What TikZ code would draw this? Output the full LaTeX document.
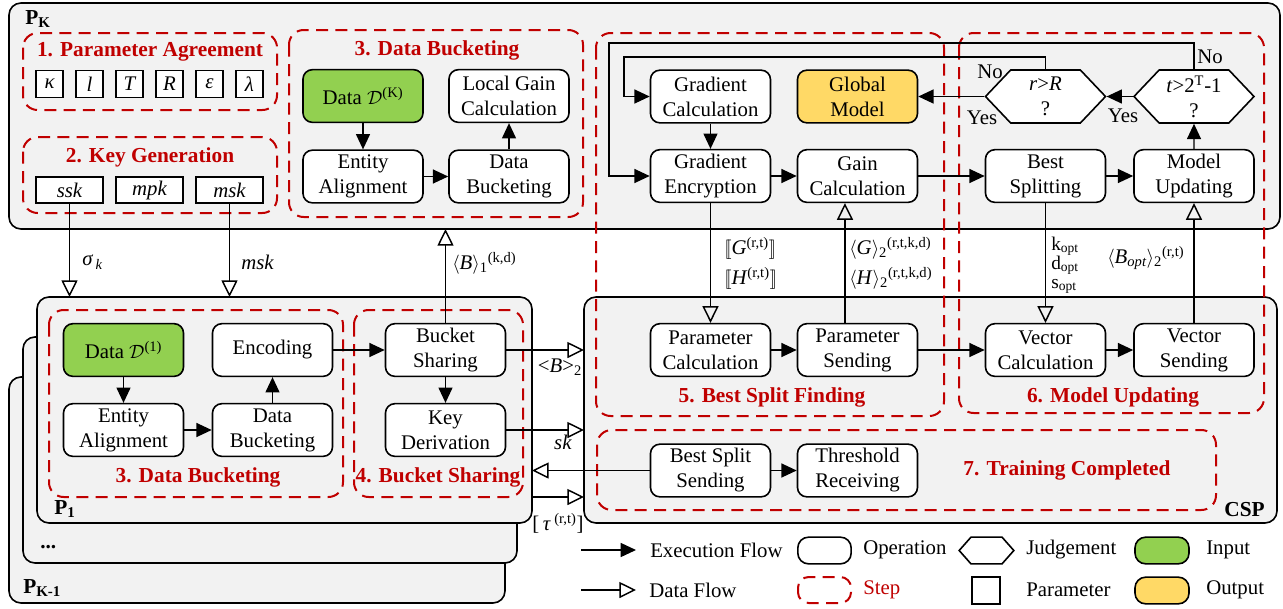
\documentclass[tikz,border=0pt]{standalone}
\usepackage{fontspec}
\setmainfont{Liberation Serif}
\usetikzlibrary{arrows.meta,calc,shapes.symbols}
\definecolor{stepred}{HTML}{C00000}
\definecolor{pgray}{HTML}{F2F2F2}
\definecolor{ingreen}{HTML}{92D050}
\definecolor{outyel}{HTML}{FFD966}
\newcommand\nf{\fontsize{15.6}{18.75}\selectfont}
\newcommand\tf{\fontsize{16}{19}\selectfont\bfseries\color{stepred}}
\newcommand\pf{\fontsize{16}{19}\selectfont\bfseries}
\begin{document}
\begin{tikzpicture}[x=0.75pt,y=-0.75pt,
 op/.style={draw, fill=white, rounded corners=7pt, line width=1.2pt, minimum width=90pt, minimum height=39.5pt, align=center, inner sep=1pt, font=\nf},
 inp/.style={op, fill=ingreen},
 outp/.style={op, fill=outyel},
 hexa/.style={shape=signal, signal to=west and east, signal pointer angle=93, draw, fill=white, line width=1.2pt, minimum width=90pt, minimum height=39.75pt, align=center, inner sep=0pt, font=\nf},
 prm/.style={draw, fill=white, line width=1.2pt, minimum height=20.5pt, inner sep=0pt, font=\nf\itshape},
 stepbox/.style={draw=stepred, line width=1.5pt, dash pattern=on 9pt off 5.5pt, rounded corners=11pt},
 party/.style={draw, fill=pgray, rounded corners=9pt, line width=1.2pt, inner sep=0pt, outer sep=0pt},
 exec/.style={line width=1.1pt, -{Triangle[length=11.5pt,width=10.5pt]}},
 dataf/.style={line width=1.1pt, -{Triangle[open,length=12.5pt,width=12pt,line width=1.1pt]}},
 title/.style={font=\tf, inner sep=0pt},
 lbl/.style={font=\nf, inner sep=0pt},
 smlbl/.style={font=\fontsize{14.5}{16}\selectfont, inner sep=0pt},
]
\useasboundingbox (0,0) rectangle (1283,608);

% ---------- party boxes ----------
\node[party, minimum width=372pt, minimum height=169.5pt] (pkm1) at (257,490) {};
\node[party, minimum width=370.5pt, minimum height=169.5pt] (pdots) at (270,450) {};
\node[party, minimum width=371.25pt, minimum height=169.5pt] (p1) at (284.5,410) {};
\node[party, minimum width=953.25pt, minimum height=169.5pt] (pk) at (644.5,116) {};
\node[party, minimum width=519.75pt, minimum height=169.5pt] (csp) at (930.5,410) {};

\node[font=\pf, anchor=west, inner sep=0pt] (lpk) at (25,19) {P\textsubscript{K}};
\node[font=\pf, anchor=west, inner sep=0pt] (lp1) at (54,509) {P\textsubscript{1}};
\node[font=\pf, anchor=west, inner sep=0pt] (ldots) at (40,547) {...};
\node[font=\pf, anchor=west, inner sep=0pt] (lpkm1) at (23,588) {P\textsubscript{K-1}};
\node[font=\pf, anchor=east, inner sep=0pt] (lcsp) at (1265,510) {CSP};

% ---------- step boxes ----------
\draw[stepbox] (23,33) rectangle (277,110);
\draw[stepbox] (23,137) rectangle (277,213);
\draw[stepbox] (289,30) rectangle (583,217);
\draw[stepbox] (596,33) rectangle (944,416);
\draw[stepbox] (959,33) rectangle (1264,413);
\draw[stepbox] (49,310) rectangle (343,497);
\draw[stepbox] (354,310) rectangle (523,497);
\draw[stepbox] (597,430) rectangle (1216,510);

\node[title] (t1) at (150,52) {1. Parameter Agreement};
\node[title] (t2) at (150,157) {2. Key Generation};
\node[title] (t3a) at (437,50) {3. Data Bucketing};
\node[title] (t3b) at (198,477) {3. Data Bucketing};
\node[title] (t4) at (438,477) {4. Bucket Sharing};
\node[title] (t5) at (772,397) {5. Best Split Finding};
\node[title] (t6) at (1113,397) {6. Model Updating};
\node[title] (t7) at (1067,470) {7. Training Completed};

% ---------- parameters and keys ----------
\node[prm, minimum width=20.25pt] (pkap) at (49.5,84) {κ};
\node[prm, minimum width=20.25pt] (pl) at (89.5,84) {l};
\node[prm, minimum width=20.25pt] (pT) at (129.5,84) {T};
\node[prm, minimum width=20.25pt] (pR) at (169.5,84) {R};
\node[prm, minimum width=20.25pt] (peps) at (209.5,84) {ε};
\node[prm, minimum width=20.25pt] (plam) at (249.5,84) {λ};

\node[prm, minimum width=50.25pt, minimum height=19.5pt] (ssk) at (69.5,190) {ssk};
\node[prm, minimum width=50.25pt, minimum height=19.5pt] (mpk) at (149.5,190) {mpk};
\node[prm, minimum width=50.25pt, minimum height=19.5pt] (msk) at (229.5,190) {msk};

% ---------- P_K data bucketing ----------
\node[inp] (dk) at (363,96) {Data $\mathcal{D}$\textsuperscript{(K)}};
\node[op] (lgc) at (509,96) {Local Gain\\Calculation};
\node[op] (eak) at (363,176.5) {Entity\\Alignment};
\node[op] (dbk) at (509,176.5) {Data\\Bucketing};

% ---------- P_K right part ----------
\node[op] (gc) at (710.5,96.5) {Gradient\\Calculation};
\node[outp] (gm) at (857.5,96.5) {Global\\Model};
\node[hexa] (rr) at (1045.5,96.5) {\textit{r}>\textit{R}\\?};
\node[hexa] (tt) at (1194,96.5) {\textit{t}>2\textsuperscript{T}-1\\?};
\node[op] (ge) at (710.5,176) {Gradient\\Encryption};
\node[op] (gain) at (857.5,176) {Gain\\Calculation};
\node[op] (bsp) at (1045.5,176) {Best\\Splitting};
\node[op] (mu) at (1194,176) {Model\\Updating};

% ---------- CSP ----------
\node[op] (pc) at (710.5,350) {Parameter\\Calculation};
\node[op] (ps) at (857.5,350) {Parameter\\Sending};
\node[op] (vc) at (1045.5,350) {Vector\\Calculation};
\node[op] (vs) at (1194,350) {Vector\\Sending};
\node[op] (bss) at (710.5,470.5) {Best Split\\Sending};
\node[op] (tr) at (857.5,470.5) {Threshold\\Receiving};

% ---------- P_1 ----------
\node[inp] (d1) at (123.5,350) {Data $\mathcal{D}$\textsuperscript{(1)}};
\node[op] (enc) at (272.5,350) {Encoding};
\node[op] (ea1) at (123.5,430) {Entity\\Alignment};
\node[op] (db1) at (272.5,430) {Data\\Bucketing};
\node[op] (bs) at (445.5,350) {Bucket\\Sharing};
\node[op] (kd) at (445.5,430) {Key\\Derivation};

% ---------- execution flow ----------
\draw[exec] (dk) -- (eak);
\draw[exec] (eak) -- (dbk);
\draw[exec] (dbk) -- (lgc);
\draw[exec] (gc) -- (ge);
\draw[exec] (ge) -- (gain);
\draw[exec] (gain) -- (bsp);
\draw[exec] (bsp) -- (mu);
\draw[exec] (mu) -- (tt);
\draw[exec] (tt.west) -- (rr.east);
\draw[exec] (rr.west) -- (gm.east);
\coordinate (loopa) at (609,43);
\coordinate (loopb) at (624,57);
\draw[exec] (tt.north) |- (loopa) |- (ge.west);
\draw[exec] (rr.north) |- (loopb) |- (gc.west);
\draw[exec] (pc) -- (ps);
\draw[exec] (ps) -- (vc);
\draw[exec] (vc) -- (vs);
\draw[exec] (bss) -- (tr);
\draw[exec] (d1) -- (ea1);
\draw[exec] (ea1) -- (db1);
\draw[exec] (db1) -- (enc);
\draw[exec] (enc) -- (bs);
\draw[exec] (bs) -- (kd);

\node[lbl] (no1) at (1210,57) {No};
\node[lbl] (no2) at (990,72) {No};
\node[lbl] (yes1) at (982,118) {Yes};
\node[lbl] (yes2) at (1123,116) {Yes};

% ---------- data flow ----------
\draw[dataf] (ssk.south) -- (ssk.south |- p1.north);
\draw[dataf] (msk.south) -- (msk.south |- p1.north);
\draw[dataf] (bs.north) -- (bs.north |- pk.south);
\draw[dataf] (bs.east) -- (bs.east -| csp.west);
\draw[dataf] (kd.east) -- (kd.east -| csp.west);
\draw[dataf] (bss.west) -- (bss.west -| p1.east);
\coordinate (tau) at (532,497);
\draw[dataf] (tau) -- (tau -| csp.west);
\draw[dataf] (ge.south) -- (pc.north);
\draw[dataf] ([xshift=-9.4pt]ps.north) -- ([xshift=-9.4pt]gain.south);
\draw[dataf] (bsp.south) -- (vc.north);
\draw[dataf] (vs.north) -- (mu.south);

\node[lbl, anchor=west] (lsig) at (82,262) {\textit{σ}\textsubscript{\,\textit{k}}};
\node[lbl, anchor=west] (lmsk) at (241,262) {\textit{msk}};
\node[lbl, anchor=west] (lb1) at (452,263) {$\langle$\textit{B}$\rangle$\textsubscript{1}\textsuperscript{(k,d)}};
\node[lbl] (lb2) at (560,367) {\textless\textit{B}\textgreater\textsubscript{2}};
\node[lbl] (lsk) at (563,442) {\textit{sk}};
\node[lbl] (ltau) at (558,523) {[\,\textit{τ}\,\textsuperscript{(r,t)}]};
\node[lbl, anchor=west] (lgg) at (724,248) {$[\![$\textit{G}\textsuperscript{(r,t)}$]\!]$};
\node[lbl, anchor=west] (lhh) at (724,278) {$[\![$\textit{H}\textsuperscript{(r,t)}$]\!]$};
\node[lbl, anchor=west] (lg2) at (849,248) {$\langle$\textit{G}$\rangle$\textsubscript{2}\textsuperscript{(r,t,k,d)}};
\node[lbl, anchor=west] (lh2) at (849,278) {$\langle$\textit{H}$\rangle$\textsubscript{2}\textsuperscript{(r,t,k,d)}};
\node[smlbl, anchor=base west] (lko) at (1051,250) {k\textsubscript{opt}};
\node[smlbl, anchor=base west] (ldo) at (1051,269) {d\textsubscript{opt}};
\node[smlbl, anchor=base west] (lso) at (1051,288) {s\textsubscript{opt}};
\node[lbl, anchor=west] (lbopt) at (1107,258) {$\langle$\textit{B\textsubscript{opt}}$\rangle$\textsubscript{2}\textsuperscript{(r,t)}};

% ---------- legend ----------
\coordinate (lea) at (581,550);
\coordinate (leb) at (636,550);
\draw[exec] (lea) -- (leb);
\node[lbl, anchor=west] (lexec) at (650,550) {Execution Flow};
\node[op, minimum width=40pt, minimum height=20pt, rounded corners=8pt] (lgop) at (824.5,550.5) {};
\node[lbl, anchor=west] (lop) at (863,550) {Operation};
\node[hexa, minimum width=41pt, minimum height=20pt, signal pointer angle=97] (lghx) at (986.5,550.5) {};
\node[lbl, anchor=west] (ljud) at (1026,550) {Judgement};
\node[inp, minimum width=40.5pt, minimum height=20pt, rounded corners=8pt] (lgin) at (1162,550.5) {};
\node[lbl, anchor=west] (linp) at (1206,550) {Input};

\coordinate (lda) at (581,590);
\coordinate (ldb) at (636,590);
\draw[dataf] (lda) -- (ldb);
\node[lbl, anchor=west] (ldata) at (649,590) {Data Flow};
\draw[stepbox, rounded corners=8pt] (798,577) rectangle (851,603);
\node[lbl, anchor=west, text=stepred] (lstep) at (863,590) {Step};
\node[prm, minimum width=21pt, minimum height=20.25pt] (lgpr) at (986,590.5) {};
\node[lbl, anchor=west] (lpar) at (1026,590) {Parameter};
\node[outp, minimum width=40.5pt, minimum height=20pt, rounded corners=8pt] (lgout) at (1162,590.5) {};
\node[lbl, anchor=west] (lout) at (1206,590) {Output};
\end{tikzpicture}
\end{document}
